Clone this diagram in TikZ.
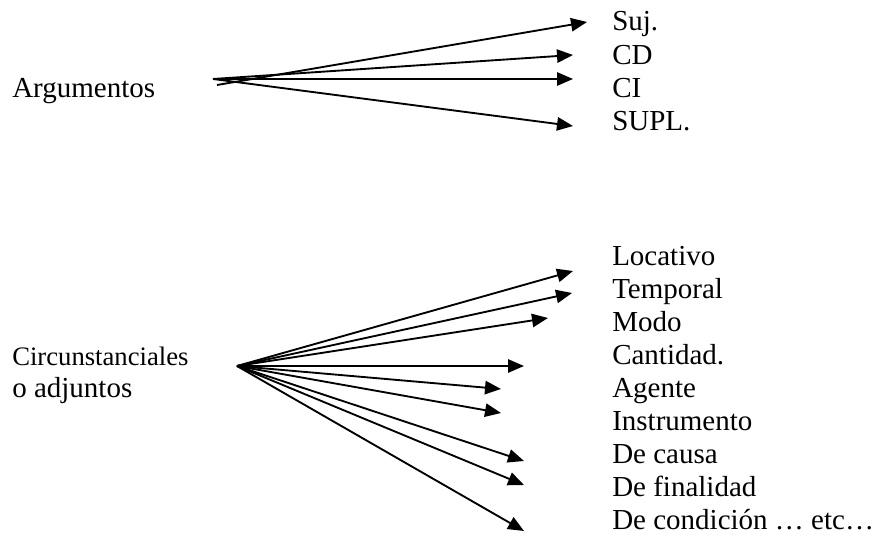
\documentclass[tikz,border=0pt]{standalone}
\usepackage{fontspec}
\setmainfont{Liberation Serif}
\usetikzlibrary{arrows.meta}
\begin{document}
\begin{tikzpicture}[x=0.75pt,y=-0.75pt,
  lbl/.style={anchor=base west,inner sep=0pt,font=\fontsize{21.75pt}{24pt}\selectfont},
  smalllbl/.style={anchor=base west,inner sep=0pt,font=\fontsize{20pt}{24pt}\selectfont},
  arr/.style={line width=1.4pt,-{Triangle[length=12pt,width=10pt]}}]
\useasboundingbox (0,0) rectangle (877,539);
% top group
\node[lbl] (arg) at (12,97) {Argumentos};
\node[lbl] (suj) at (612,31) {Suj.};
\node[lbl] (cd) at (612,64) {CD};
\node[lbl] (ci) at (612,97) {CI};
\node[lbl] (supl) at (612,130) {SUPL.};
\coordinate (o1) at (213,79);
\coordinate (o1b) at (217,85);
\coordinate (tsuj) at (587,22);
\coordinate (tcd) at (573,55);
\coordinate (tci) at (573,79);
\coordinate (tsupl) at (573,126);
\draw[arr] (o1b) -- (tsuj);
\draw[arr] (o1) -- (tcd);
\draw[arr] (o1) -- (tci);
\draw[arr] (o1) -- (tsupl);
% bottom group
\node[smalllbl] (circ) at (12,365) {Circunstanciales};
\node[lbl] (adj) at (12,397) {o adjuntos};
\node[lbl] (loc) at (612,265) {Locativo};
\node[lbl] (tem) at (612,298) {Temporal};
\node[lbl] (mod) at (612,331) {Modo};
\node[lbl] (can) at (612,364) {Cantidad.};
\node[lbl] (age) at (612,397) {Agente};
\node[lbl] (ins) at (612,430) {Instrumento};
\node[lbl] (cau) at (612,463) {De causa};
\node[lbl] (fin) at (612,496) {De finalidad};
\node[lbl] (con) at (612,529) {De condición … etc…};
\coordinate (o2) at (237,366);
\coordinate (tloc) at (573,271);
\coordinate (ttem) at (572,293);
\coordinate (tmod) at (548,318);
\coordinate (tcan) at (524,366);
\coordinate (tage) at (501,389);
\coordinate (tins) at (501,413);
\coordinate (tcau) at (524,461);
\coordinate (tfin) at (524,485);
\coordinate (tcon) at (524,531);
\foreach \t in {tloc,ttem,tmod,tcan,tage,tins,tcau,tfin,tcon}
  \draw[arr] (o2) -- (\t);
\end{tikzpicture}
\end{document}
